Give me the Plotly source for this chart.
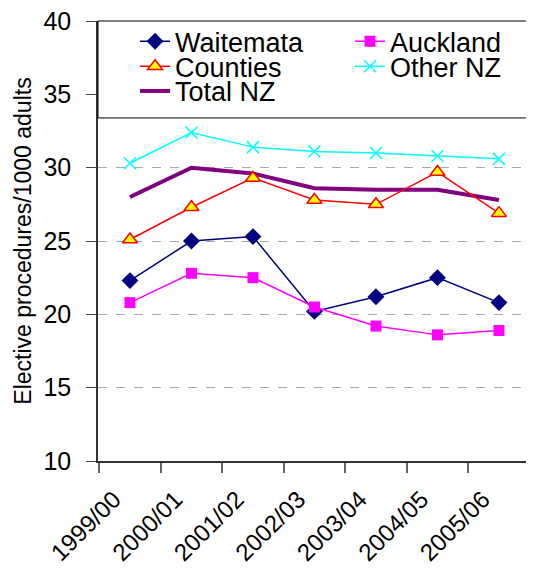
import plotly.graph_objects as go

years = ["1999/00", "2000/01", "2001/02", "2002/03", "2003/04", "2004/05", "2005/06"]
waitemata = [22.3, 25.0, 25.3, 20.2, 21.2, 22.5, 20.8]
auckland = [20.8, 22.8, 22.5, 20.5, 19.2, 18.6, 18.9]
counties = [25.1, 27.3, 29.3, 27.8, 27.5, 29.7, 26.9]
other_nz = [30.3, 32.4, 31.4, 31.1, 31.0, 30.8, 30.6]
total_nz = [28.0, 30.0, 29.6, 28.6, 28.5, 28.5, 27.8]

x = list(range(len(years)))
FONT = "Liberation Sans, Arial, sans-serif"
Y_MIN, Y_MAX, LEGEND_BOTTOM = 10, 40, 33.39

fig = go.Figure()
fig.add_trace(go.Scatter(x=x, y=total_nz, name="Total NZ", mode="lines",
                         line=dict(color="#800080", width=4), legend="legend5"))
fig.add_trace(go.Scatter(x=x, y=waitemata, name="Waitemata", mode="lines+markers",
                         line=dict(color="#000080", width=1.5),
                         marker=dict(symbol="diamond", size=13, color="#000080"), legend="legend"))
fig.add_trace(go.Scatter(x=x, y=auckland, name="Auckland", mode="lines+markers",
                         line=dict(color="#FF00FF", width=1.5),
                         marker=dict(symbol="square", size=11, color="#FF00FF"), legend="legend2"))
fig.add_trace(go.Scatter(x=x, y=counties, name="Counties", mode="lines+markers",
                         line=dict(color="#FF0000", width=1.5),
                         marker=dict(symbol="triangle-up", size=13, color="#FFFF00",
                                     line=dict(color="#FF0000", width=1.5)), legend="legend3"))
fig.add_trace(go.Scatter(x=x, y=other_nz, name="Other NZ", mode="lines+markers",
                         line=dict(color="#00FFFF", width=1.5),
                         marker=dict(symbol="x-thin", size=12, color="#00FFFF",
                                     line=dict(color="#00FFFF", width=1.5)), legend="legend4"))

# legend box
fig.add_shape(type="rect", xref="paper", yref="paper", x0=0, x1=1.0,
              y0=(LEGEND_BOTTOM - Y_MIN) / (Y_MAX - Y_MIN), y1=1.0,
              line=dict(color="black", width=1), fillcolor="white", layer="above")

def leg(xp, yp):
    return dict(x=xp, y=yp, xanchor="left", yanchor="middle", orientation="h",
                bgcolor="rgba(0,0,0,0)", font=dict(size=27, family=FONT), itemwidth=30)

c1, c2 = 0.085, 0.578
r1, r2, r3 = 0.953, 0.896, 0.840

fig.update_layout(
    width=526, height=572,
    margin=dict(l=90, r=0, t=13, b=119),
    paper_bgcolor="white", plot_bgcolor="white",
    font=dict(family=FONT, size=21, color="black"),
    showlegend=True,
    legend=leg(c1, r1), legend2=leg(c2, r1), legend3=leg(c1, r2),
    legend4=leg(c2, r2), legend5=leg(c1, r3),
    xaxis=dict(range=[-0.52, 6.57], tickvals=x, ticktext=years, tickangle=-45,
               ticks="", showgrid=False, showline=True, linecolor="#333333", linewidth=1.5,
               tickfont=dict(size=24), zeroline=False, automargin=False,
               ticklabelstandoff=13, ticklabelshift=-16, ticklabeloverflow="allow",
               minor=dict(tickvals=[i - 0.5 for i in x], ticks="outside", ticklen=10,
                          tickcolor="#666666", tickwidth=1.5, showgrid=False)),
    yaxis=dict(range=[Y_MIN, Y_MAX], dtick=5, ticks="outside", ticklen=10, tickcolor="#444444",
               showline=True, linecolor="#333333", linewidth=1.5, zeroline=False,
               showgrid=True, gridcolor="#AAAAAA", griddash="dash", gridwidth=1,
               tickfont=dict(size=25), automargin=False, ticklabelstandoff=10,
               ticklabeloverflow="allow",
               title=dict(text="Elective procedures/1000 adults", font=dict(size=23), standoff=5)),
)

fig.write_html("out.html")
